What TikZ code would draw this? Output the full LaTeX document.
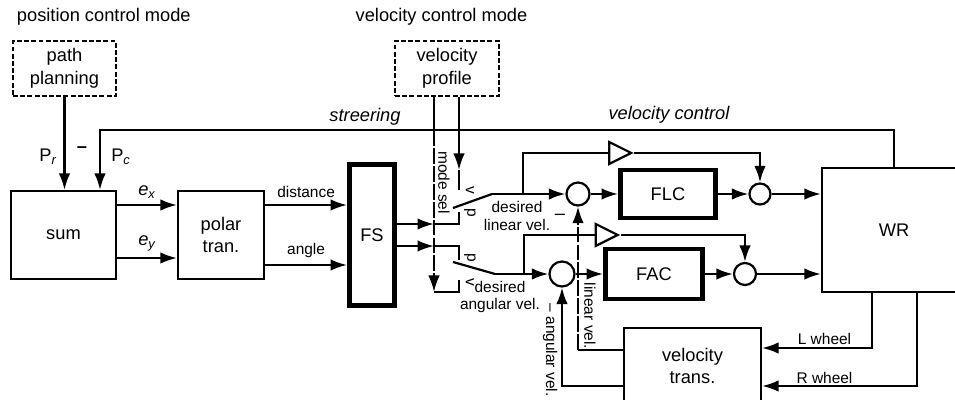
\documentclass[tikz,border=0pt]{standalone}
\usepackage{fontspec}
\setmainfont{Liberation Sans}
\usepackage{tikz}
\usetikzlibrary{arrows.meta,positioning,calc,shapes.geometric}

\begin{document}
\begin{tikzpicture}[
  font=\fontsize{10.4}{13}\selectfont,
  line width=1.25pt,
  blk/.style={draw,align=center,inner sep=0pt},
  fuzzy/.style={blk,line width=2.8pt},
  source/.style={blk,dash pattern=on 2.8pt off 1.3pt},
  junc/.style={draw,circle,inner sep=0pt,minimum size=#1},
  gain/.style={draw,isosceles triangle,isosceles triangle stretches,
               inner sep=0pt,minimum width=0.44cm,minimum height=0.44cm},
  sig/.style={-{Latex[length=3.3mm,width=2.3mm]}},
  meas/.style={dash pattern=on 9pt off 1.2pt},
  lbl/.style={font=\fontsize{8.8}{10.2}\selectfont,align=center},
  side/.style={lbl,rotate=-90}
]
\useasboundingbox (0,0) rectangle (19.1,-8);
\clip (0,0) rectangle (19.1,-8);

% Mode sources
\node[anchor=west] (pcm) at (0.2,-0.34) {position control mode};
\node (vcm) at (8.83,-0.34) {velocity control mode};
\node[source,minimum width=2.06cm,minimum height=1.1cm] (pp) at (1.29,-1.37) {path\\planning};
\node[source,minimum width=2.08cm,minimum height=1.1cm] (vp) at (8.94,-1.37) {velocity\\profile};

% Blocks
\node[blk,minimum width=2.1cm,minimum height=1.76cm]   (sum)   at (1.27,-4.7)  {sum};
\node[blk,minimum width=1.72cm,minimum height=1.76cm]  (polar) at (4.42,-4.7)  {polar\\tran.};
\node[fuzzy,minimum width=0.9cm,minimum height=2.82cm] (fs)    at (7.44,-4.7)  {FS};
\node[fuzzy,minimum width=1.9cm,minimum height=0.96cm] (flc)   at (13.36,-3.88) {FLC};
\node[fuzzy,minimum width=1.94cm,minimum height=1.0cm] (fac)   at (13.08,-5.48) {FAC};
\node[blk,minimum width=2.88cm,minimum height=2.48cm]  (wr)    at (17.88,-4.6) {WR};
\node[blk,minimum width=2.74cm,minimum height=1.52cm]  (vt)    at (13.85,-7.32) {velocity\\trans.};

% Junctions and gains
\node[junc=0.46cm] (c1) at (11.56,-3.88) {};
\node[junc=0.42cm] (c2) at (15.2,-3.88) {};
\node[junc=0.5cm]  (c3) at (11.24,-5.48) {};
\node[junc=0.44cm] (c4) at (14.9,-5.48) {};
\node[gain] (g1) at (12.32,-3.06) {};
\node[gain] (g2) at (12.05,-4.7) {};

% Switch and branch points
\coordinate (fb)  at (2.0,-2.6);
\coordinate (ms)  at (8.68,-5.84);
\coordinate (s1v) at (9.18,-3.4);
\coordinate (s1p) at (9.18,-4.24);
\coordinate (s2p) at (9.18,-5.2);
\coordinate (s2v) at (9.18,-5.6);
\coordinate (b1)  at (9.84,-3.88);
\coordinate (b2)  at (9.9,-5.48);
\coordinate (k1)  at (10.46,-3.88);
\coordinate (k2)  at (10.48,-5.48);
\coordinate (fs1) at ($(fs.east)+(0,0.22)$);
\coordinate (fs2) at ($(fs.east)+(0,-0.22)$);
\coordinate (lw)  at ($(vt.east)+(0,0.36)$);
\coordinate (rw)  at ($(vt.east)+(0,-0.4)$);
\coordinate (lv)  at ($(vt.west)+(0,0.32)$);
\coordinate (av)  at ($(vt.west)+(0,-0.4)$);

% Position loop
\draw[sig] (pp) -- (pp |- sum.north);
\draw[sig] (wr.north) |- (fb) -- (fb |- sum.north);
\node at (0.96,-3.14) {P\textsubscript{\itshape r}};
\node at (1.64,-3.0) {\textbf{\textendash}};
\node at (2.42,-3.14) {P\textsubscript{\itshape c}};
\node at (7.3,-2.34) {\itshape streering};
\node at (13.38,-2.3) {\itshape velocity control};

\draw[sig] ($(sum.east)+(0,0.6)$) -- node[above]{\textit{e}\textsubscript{\itshape x}} ($(polar.west)+(0,0.6)$);
\draw[sig] ($(sum.east)+(0,-0.46)$) -- node[above]{\textit{e}\textsubscript{\itshape y}} ($(polar.west)+(0,-0.46)$);
\draw[sig] ($(polar.east)+(0,0.6)$) -- node[lbl,above]{distance} ($(fs.west)+(0,0.6)$);
\draw[sig] ($(polar.east)+(0,-0.6)$) -- node[lbl,above]{angle} ($(fs.west)+(0,-0.6)$);

% Mode select
\draw (vp.south -| ms) -- (fb -| ms);
\draw[sig,meas] (fb -| ms) -- (ms);
\draw (ms) -| (s2v);
\node[side] at (8.88,-3.65) {mode sel};
\draw[sig] (vp.south -| s1v) -- (s1v);
\draw (s1v) -- ++(0,-0.4);

% Switches
\draw[sig] (fs1) -- (fs1 -| ms);
\draw (fs1 -| ms) -| (s1p);
\draw[sig] (fs2) -- (fs2 -| ms);
\draw (fs2 -| ms) -| (s2p);
\draw ($(s1p)+(-0.12,0.08)$) -- (b1);
\draw ($(s2p)+(-0.12,-0.04)$) -- (b2);
\draw[sig] (b1) -- (c1);
\draw[sig] (b2) -- (c3);
\foreach \t/\y in {v/-3.8,p/-4.26,p/-5.16,v/-5.64}
  \node[side] at (9.4,\y) {\t};
\node[lbl] at (10.34,-4.32) {desired\\linear vel.};
\node[lbl] at (10.0,-5.94) {desired\\angular vel.};
\node at (11.2,-4.34) {\textendash};

% Feed-forward gains
\draw (k1) |- (g1);
\draw (k2) |- (g2);
\draw[sig] (g1) -| (c2);
\draw[sig] (g2) -| (c4);

% Control rows
\foreach \a/\b in {c1/flc,flc/c2,c3/fac,fac/c4}
  \draw[sig] (\a) -- (\b);
\foreach \n in {c2,c4}
  \draw[sig] (\n) -- (\n -| wr.west);

% Feedback
\draw[sig] ($(wr.south)+(-0.44,0)$) |- (lw);
\draw[sig] ($(wr.south)+(0.46,0)$) |- (rw);
\node[lbl] at (16.49,-6.78) {L wheel};
\node[lbl] at (16.49,-7.56) {R wheel};
\draw (lv) -- (lv -| c1);
\draw[sig,meas] (lv -| c1) -- (c1);
\draw[sig] (av) -| (c3);
\node[side] at (11.8,-6.32) {linear vel.};
\node[side] at (11.0,-7.0) {\textendash{} angular vel.};
\end{tikzpicture}
\end{document}
